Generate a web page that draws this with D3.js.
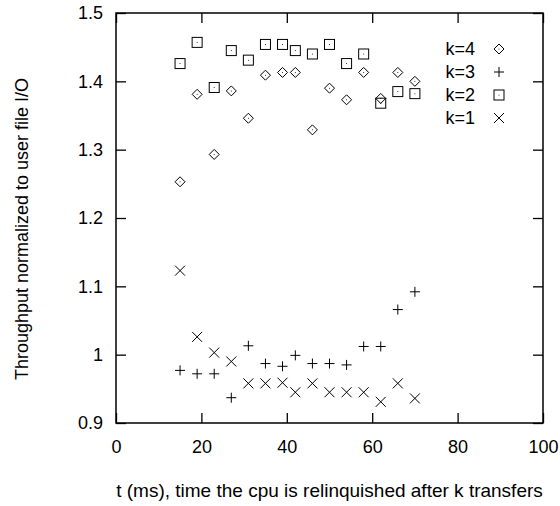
<!DOCTYPE html>
<html>
<head>
<meta charset="utf-8">
<script src="https://cdn.jsdelivr.net/npm/d3@7"></script>
<style>
  body { margin: 0; background: #fff; }
  text { font-family: "Liberation Sans", Arial, sans-serif; fill: #000; }
</style>
</head>
<body>
<div id="chart"></div>
<script>
let width = 560;
let height = 506;
let margin = { top: 13, right: 17, bottom: 83, left: 116 };

// t (ms)
const tValues = [15, 19, 23, 27, 31, 35, 39, 42, 46, 50, 54, 58, 62, 66, 70];
const k4 = [1.253, 1.381, 1.293, 1.386, 1.346, 1.409, 1.413, 1.413, 1.329, 1.390, 1.373, 1.413, 1.375, 1.413, 1.400];
const k3 = [0.977, 0.972, 0.972, 0.937, 1.013, 0.987, 0.983, 0.999, 0.987, 0.987, 0.985, 1.012, 1.012, 1.066, 1.092];
const k2 = [1.426, 1.457, 1.391, 1.445, 1.431, 1.454, 1.454, 1.445, 1.440, 1.454, 1.426, 1.440, 1.368, 1.385, 1.382];
const k1 = [1.123, 1.026, 1.003, 0.990, 0.958, 0.958, 0.959, 0.945, 0.958, 0.945, 0.945, 0.945, 0.931, 0.958, 0.936];

const xTicks = [0, 20, 40, 60, 80, 100];
const yTicks = [0.9, 1, 1.1, 1.2, 1.3, 1.4, 1.5];

const series = [
    { label: "k=4", values: k4, marker: "diamond" },
    { label: "k=3", values: k3, marker: "plus" },
    { label: "k=2", values: k2, marker: "square" },
    { label: "k=1", values: k1, marker: "cross" }
];

const innerWidth = width - margin.left - margin.right;
const innerHeight = height - margin.top - margin.bottom;

const svg = d3.select("#chart")
    .append("svg")
    .attr("width", width)
    .attr("height", height);

const g = svg.append("g")
    .attr("transform", `translate(${margin.left}, ${margin.top})`);

const xScale = d3.scaleLinear().domain([0, 100]).range([0, innerWidth]);
const yScale = d3.scaleLinear().domain([0.9, 1.5]).range([innerHeight, 0]);

// desenha um marcador no estilo gnuplot
function drawMarker(sel, type, x, y) {
    const s = 5;
    const p = sel.append("g").attr("transform", `translate(${x}, ${y})`);
    if (type === "diamond") {
        p.append("path").attr("d", `M0,${-s}L${s},0L0,${s}L${-s},0Z`);
        p.append("circle").attr("r", 0.5).attr("fill", "#000").attr("stroke", "none");
    } else if (type === "square") {
        p.append("rect").attr("x", -s).attr("y", -s).attr("width", 2 * s).attr("height", 2 * s);
        p.append("circle").attr("r", 0.5).attr("fill", "#000").attr("stroke", "none");
    } else if (type === "plus") {
        p.append("path").attr("d", `M${-s},0H${s}M0,${-s}V${s}`);
    } else {
        p.append("path").attr("d", `M${-s},${-s}L${s},${s}M${-s},${s}L${s},${-s}`);
    }
    return p;
}

// Eixos (ticks para dentro, espelhados)
g.append("g")
    .attr("transform", `translate(0, ${innerHeight})`)
    .call(d3.axisBottom(xScale).tickValues(xTicks).tickSizeInner(-10).tickSizeOuter(0).tickPadding(17))
    .call(a => a.select(".domain").remove())
    .call(a => a.selectAll("text").attr("font-size", 18));

g.append("g")
    .call(d3.axisTop(xScale).tickValues(xTicks).tickSizeInner(-10).tickSizeOuter(0))
    .call(a => a.select(".domain").remove())
    .call(a => a.selectAll("text").remove());

g.append("g")
    .call(d3.axisLeft(yScale).tickValues(yTicks).tickSizeInner(-10).tickSizeOuter(0).tickPadding(13)
        .tickFormat(d => d === 1 ? "1" : d3.format(".1f")(d)))
    .call(a => a.select(".domain").remove())
    .call(a => a.selectAll("text").attr("font-size", 18));

g.append("g")
    .attr("transform", `translate(${innerWidth}, 0)`)
    .call(d3.axisRight(yScale).tickValues(yTicks).tickSizeInner(-10).tickSizeOuter(0))
    .call(a => a.select(".domain").remove())
    .call(a => a.selectAll("text").remove());

g.selectAll(".tick line").attr("stroke", "#000").attr("stroke-width", 1.3);

g.append("rect")
    .attr("width", innerWidth)
    .attr("height", innerHeight)
    .attr("fill", "none")
    .attr("stroke", "#000")
    .attr("stroke-width", 1.5);

// Pontos
const marks = g.append("g")
    .attr("fill", "none")
    .attr("stroke", "#000")
    .attr("stroke-width", 1);

series.forEach(s => {
    s.values.forEach((v, i) => drawMarker(marks, s.marker, xScale(tValues[i]), yScale(v)));
});

// Legenda
const legend = g.append("g").attr("transform", "translate(359, 36)");
series.forEach((s, i) => {
    legend.append("text")
        .attr("x", 0)
        .attr("y", i * 23)
        .attr("dy", "0.35em")
        .attr("text-anchor", "end")
        .attr("font-size", 18)
        .text(s.label);
    drawMarker(legend.append("g").attr("fill", "none").attr("stroke", "#000").attr("stroke-width", 1),
        s.marker, 24, i * 23);
});

// Títulos
svg.append("text")
    .attr("x", margin.left + innerWidth / 2)
    .attr("y", 497)
    .attr("text-anchor", "middle")
    .attr("font-size", 19)
    .text("t (ms), time the cpu is relinquished after k transfers");

svg.append("text")
    .attr("transform", "translate(28, 229) rotate(-90)")
    .attr("text-anchor", "middle")
    .attr("font-size", 18)
    .text("Throughput normalized to user file I/O");
</script>
</body>
</html>
